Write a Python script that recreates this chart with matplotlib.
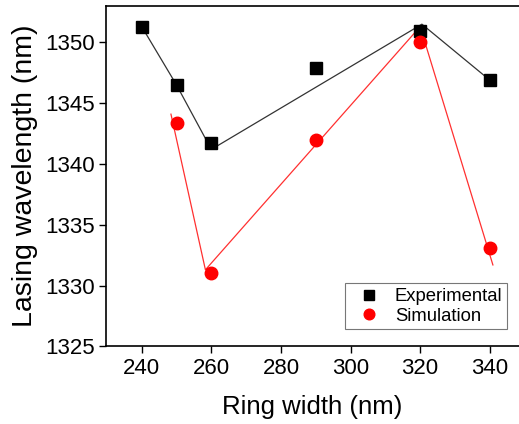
import matplotlib
matplotlib.use("Agg")
import matplotlib.pyplot as plt

plt.rcParams['font.family'] = ['Liberation Sans', 'DejaVu Sans']

# measured points
ring_width = [240, 250, 260, 290, 320, 340]
exp_wl = [1351.3, 1346.5, 1341.7, 1347.9, 1350.9, 1346.9]
sim_width = [250, 260, 290, 320, 340]
sim_wl = [1343.4, 1331.05, 1342.0, 1350.0, 1333.1]

# guide lines drawn in the original (slightly offset from the markers)
exp_line_x = [240, 250, 260, 320.5, 340]
exp_line_y = [1351.3, 1346.5, 1341.2, 1351.5, 1346.9]
sim_line_x = [248.4, 258.3, 320.0, 340.9]
sim_line_y = [1344.1, 1331.3, 1351.3, 1331.7]

fig = plt.figure(figsize=(5.19, 4.24), dpi=100)
ax = fig.add_axes([0.204, 0.183, 0.796, 0.803])

ax.plot(exp_line_x, exp_line_y, color='#333333', lw=0.9, zorder=2)
ax.plot(sim_line_x, sim_line_y, color='#ff3030', lw=0.9, zorder=2)
ax.plot(ring_width, exp_wl, 's', color='black', ms=8.6, ls='none',
        label='Experimental', zorder=3)
ax.plot(sim_width, sim_wl, 'o', color='red', ms=9, ls='none',
        label='Simulation', zorder=3)

ax.set_xlim(229.7, 348.4)
ax.set_ylim(1325, 1353)
ax.set_xticks([240, 260, 280, 300, 320, 340])
ax.set_yticks([1325, 1330, 1335, 1340, 1345, 1350])
ax.tick_params(direction='out', length=5, width=1, labelsize=16, pad=3)
ax.spines['right'].set_visible(False)
for s in ('left', 'bottom', 'top'):
    ax.spines[s].set_linewidth(1.2)

ax.set_xlabel('Ring width (nm)', fontsize=18.5, labelpad=12)
ax.set_ylabel('Lasing wavelength (nm)', fontsize=20.5, labelpad=5)

leg = ax.legend(loc='lower right', fontsize=13.3, frameon=True, fancybox=False,
                edgecolor='#555555', markerscale=0.85, handletextpad=0.36,
                handlelength=2.1, borderpad=0.25, labelspacing=0.15,
                borderaxespad=0, bbox_to_anchor=(0.971, 0.05))
leg.get_frame().set_linewidth(0.8)

fig.savefig('out.png', dpi=100)
